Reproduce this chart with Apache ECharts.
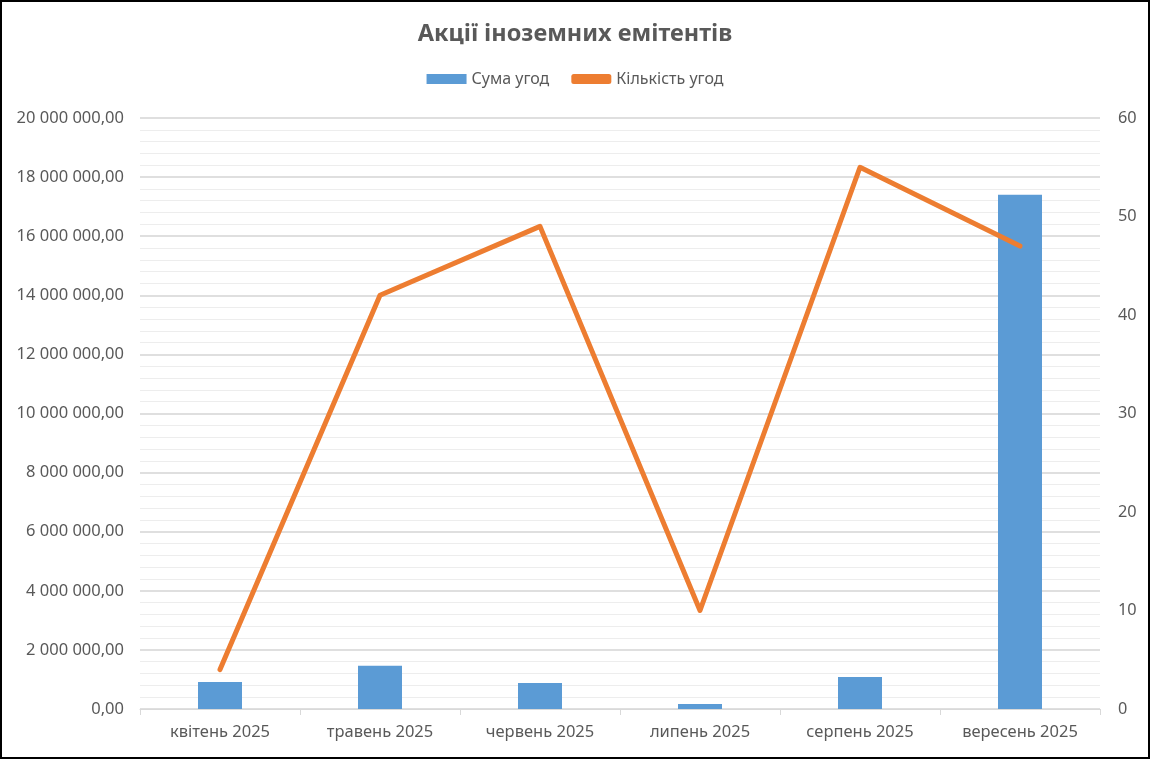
<!DOCTYPE html>
<html>
<head>
<meta charset="utf-8">
<script src="https://cdn.jsdelivr.net/npm/echarts@6/dist/echarts.min.js"></script>
<style>
html,body{margin:0;padding:0;background:#fff;}
#c{width:1150px;height:759px;box-sizing:border-box;border:2px solid #000;}
</style>
</head>
<body>
<div id="c"></div>
<script>
const categories = ['квітень 2025','травень 2025','червень 2025','липень 2025','серпень 2025','вересень 2025'];
const sumValues = [910000, 1460000, 880000, 170000, 1080000, 17400000];
const countValues = [4, 42, 49, 10, 55, 47];
const seriesNames = ['Сума угод','Кількість угод'];
const titleText = 'Акції іноземних емітентів';

function fmt(v){
  const s = Math.round(v).toString().replace(/\B(?=(\d{3})+(?!\d))/g,' ');
  return s + ',00';
}
const chart = echarts.init(document.getElementById('c'));
const font = 'Noto Sans';
chart.setOption({
  animation:false,
  title:{text:titleText,left:'center',top:15,textStyle:{fontFamily:font,fontSize:23.5,fontWeight:'bold',color:'#595959'}},
  legend:{top:64,left:'center',itemGap:22,itemWidth:40,itemHeight:10,
    textStyle:{fontFamily:font,fontSize:16,color:'#595959'},
    data:[{name:seriesNames[0],icon:'rect'},{name:seriesNames[1],icon:'roundRect'}]},
  grid:{left:138,right:48,top:116,bottom:48,containLabel:false},
  xAxis:{type:'category',data:categories,
    axisLine:{lineStyle:{color:'#d9d9d9',width:1}},
    axisTick:{show:true,length:6,lineStyle:{color:'#d9d9d9'}},
    axisLabel:{fontFamily:font,fontSize:16.5,color:'#595959',margin:15}},
  yAxis:[
    {type:'value',min:0,max:20000000,interval:2000000,
     axisLine:{show:false},axisTick:{show:false},
     axisLabel:{fontFamily:font,fontSize:16.5,color:'#595959',margin:16,formatter:fmt},
     splitLine:{lineStyle:{color:'#d4d4d4',width:1.5}},
     minorTick:{show:false,splitNumber:5},
     minorSplitLine:{show:true,lineStyle:{color:'#ededed',width:1}}},
    {type:'value',min:0,max:60,interval:10,alignTicks:false,
     axisLine:{show:false},axisTick:{show:false},
     axisLabel:{fontFamily:font,fontSize:16.3,color:'#595959',margin:18},
     splitLine:{show:false}}
  ],
  series:[
    {name:seriesNames[0],type:'bar',data:sumValues,barWidth:'27.5%',itemStyle:{color:'#5b9bd5'}},
    {name:seriesNames[1],type:'line',yAxisIndex:1,data:countValues,symbol:'none',
     lineStyle:{color:'#ed7d31',width:5,cap:'round',join:'round'},itemStyle:{color:'#ed7d31'}}
  ]
});
</script>
</body>
</html>
